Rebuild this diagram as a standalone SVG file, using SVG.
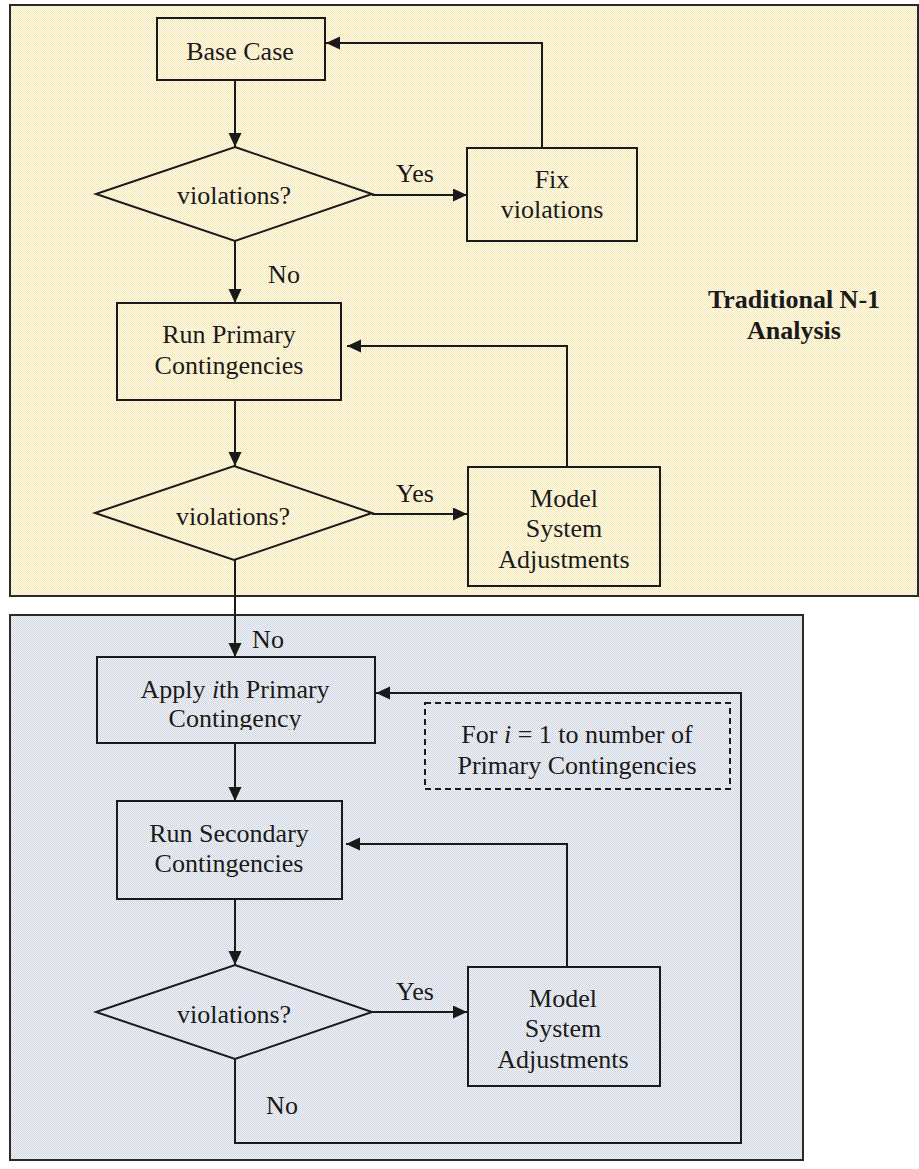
<svg xmlns="http://www.w3.org/2000/svg" width="919" height="1169" viewBox="0 0 919 1169">
<style>
text{font-family:"Liberation Serif","Times New Roman",serif;font-size:26px;fill:#1a1a1a;text-anchor:middle}
.b{font-weight:bold}
.box{fill:none;stroke:#1a1a1a;stroke-width:2}
.panel{stroke:#2a2a2a;stroke-width:2}
.ln{fill:none;stroke:#1a1a1a;stroke-width:2}
.dash{fill:none;stroke:#1a1a1a;stroke-width:2;stroke-dasharray:6,4}
</style>
<defs>
<pattern id="py" width="2" height="2" patternUnits="userSpaceOnUse">
<rect width="2" height="2" fill="#FFFDF2"/>
<rect width="1" height="1" fill="#F5E6B0"/>
<rect x="1" y="1" width="1" height="1" fill="#F5E6B0"/>
</pattern>
<pattern id="pb" width="2" height="2" patternUnits="userSpaceOnUse">
<rect width="2" height="2" fill="#F4F6F9"/>
<rect width="1" height="1" fill="#CCD3DF"/>
<rect x="1" y="1" width="1" height="1" fill="#CCD3DF"/>
</pattern>
<marker id="ah" markerWidth="14" markerHeight="14" refX="14" refY="6.5" orient="auto" markerUnits="userSpaceOnUse">
<path d="M0,0 L14,6.5 L0,13 Z" fill="#1a1a1a"/>
</marker>
<clipPath id="clipApply"><rect x="97" y="657" width="278" height="73"/></clipPath>
</defs>

<g id="panel-traditional">
<rect class="panel" x="10" y="5" width="908" height="591" fill="url(#py)"/>
<text class="b" x="794" y="308">Traditional N-1</text>
<text class="b" x="794" y="339">Analysis</text>
</g>
<g id="panel-secondary">
<rect class="panel" x="10" y="615" width="793" height="545" fill="url(#pb)"/>
</g>

<g id="connectors">
<path class="ln" d="M235,81 V147" marker-end="url(#ah)"/>
<path class="ln" d="M372,195 H467" marker-end="url(#ah)"/>
<path class="ln" d="M542,148 V43 H326" marker-end="url(#ah)"/>
<path class="ln" d="M235,241 V303" marker-end="url(#ah)"/>
<path class="ln" d="M235,400 V466" marker-end="url(#ah)"/>
<path class="ln" d="M372,514 H467" marker-end="url(#ah)"/>
<path class="ln" d="M567,467 V346 H347" marker-end="url(#ah)"/>
<path class="ln" d="M235,560 V657" marker-end="url(#ah)"/>
<path class="ln" d="M235,743 V801" marker-end="url(#ah)"/>
<path class="ln" d="M235,899 V965" marker-end="url(#ah)"/>
<path class="ln" d="M372,1012 H467" marker-end="url(#ah)"/>
<path class="ln" d="M567,967 V844 H346" marker-end="url(#ah)"/>
<path class="ln" d="M235,1059 V1143 H741 V693 H376" marker-end="url(#ah)"/>
<text x="415" y="182">Yes</text>
<text x="284" y="283">No</text>
<text x="415" y="502">Yes</text>
<text x="268" y="648">No</text>
<text x="415" y="1000">Yes</text>
<text x="282" y="1114">No</text>
</g>

<g id="base-case">
<rect class="box" x="157" y="18" width="168" height="62"/>
<text x="240" y="60">Base Case</text>
</g>
<g id="decision-1">
<path class="box" d="M235,147 L372,194 L235,241 L96,194 Z"/>
<text x="234" y="204">violations?</text>
</g>
<g id="fix-violations">
<rect class="box" x="467" y="148" width="170" height="93"/>
<text x="552" y="188">Fix</text>
<text x="552" y="218">violations</text>
</g>
<g id="run-primary">
<rect class="box" x="117" y="303" width="224" height="97"/>
<text x="229" y="343">Run Primary</text>
<text x="229" y="374">Contingencies</text>
</g>
<g id="decision-2">
<path class="box" d="M234,466 L372,513 L234,560 L95,513 Z"/>
<text x="233" y="525">violations?</text>
</g>
<g id="model-adjust-1">
<rect class="box" x="468" y="467" width="192" height="119"/>
<text x="564" y="507">Model</text>
<text x="564" y="537">System</text>
<text x="564" y="568">Adjustments</text>
</g>
<g id="apply-primary">
<rect class="box" x="97" y="657" width="278" height="86"/>
<text x="235" y="698">Apply <tspan font-style="italic">i</tspan>th Primary</text>
<text x="235" y="727" clip-path="url(#clipApply)">Contingency</text>
</g>
<g id="loop-note">
<rect class="dash" x="425" y="703" width="305" height="86"/>
<text x="577" y="743">For <tspan font-style="italic">i</tspan> = 1 to number of</text>
<text x="577" y="774">Primary Contingencies</text>
</g>
<g id="run-secondary">
<rect class="box" x="117" y="801" width="225" height="98"/>
<text x="229" y="842">Run Secondary</text>
<text x="229" y="872">Contingencies</text>
</g>
<g id="decision-3">
<path class="box" d="M235,965 L372,1012 L235,1059 L96,1012 Z"/>
<text x="234" y="1023">violations?</text>
</g>
<g id="model-adjust-2">
<rect class="box" x="468" y="967" width="192" height="119"/>
<text x="563" y="1007">Model</text>
<text x="563" y="1037">System</text>
<text x="563" y="1068">Adjustments</text>
</g>
</svg>
